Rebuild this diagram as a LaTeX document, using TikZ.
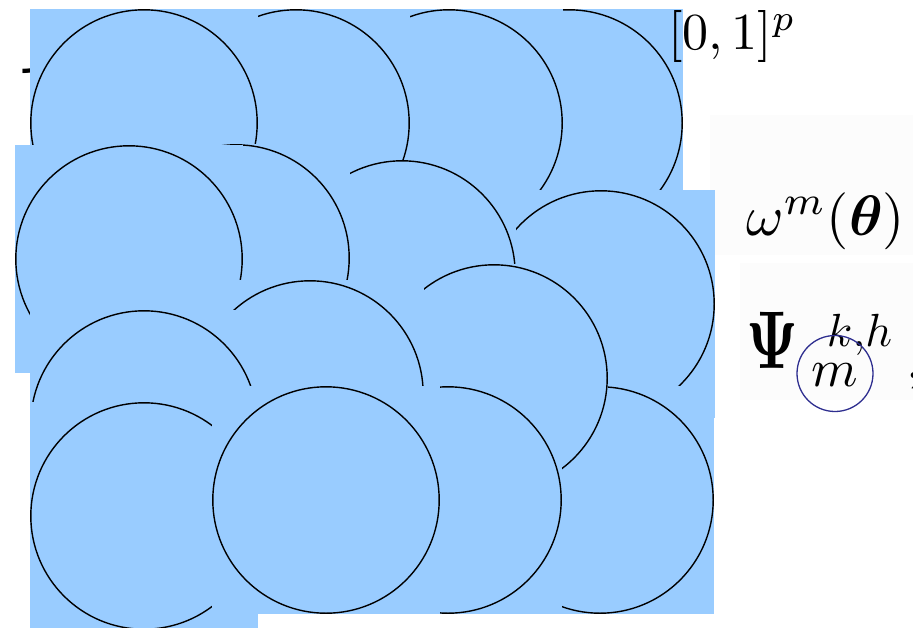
\documentclass[tikz,border=0pt]{standalone}
\usepackage{amsmath}
\definecolor{patchblue}{HTML}{99CCFF}
\definecolor{ringnavy}{HTML}{2E2E8F}
\begin{document}
\begin{tikzpicture}[x=1pt,y=-1pt,
  bub/.style={rectangle, fill=patchblue, minimum size=228pt, inner sep=0pt,
    path picture={\draw[line width=1.4pt] (path picture bounding box.center) circle (113.2pt);}},
  lbl/.style={inner sep=0pt, anchor=base west}]
\useasboundingbox (0,0) rectangle (913,627);
\fill[black!1] (710,115) rectangle (913,255);
\fill[black!1] (740,263) rectangle (913,400);
\node[lbl, scale=14] (one) at (8,153) {1};
% drawing order matters: later patches cover earlier rings
\node[bub] (c4)  at (569,123) {};
\node[bub] (c3)  at (449,123) {};
\node[bub] (c2)  at (296,123) {};
\node[bub] (c1)  at (144,123) {};
\node[bub] (c8)  at (601,304) {};
\node[bub] (c7)  at (402,274) {};
\node[bub] (c6)  at (236,258) {};
\node[bub] (c5)  at (129,259) {};
\node[bub] (c16) at (600,500) {};
\node[bub] (c11) at (494,378) {};
\node[bub] (c10) at (310,394) {};
\node[bub] (c9)  at (144,424) {};
\node[bub] (c13) at (144,516) {};
\node[bub] (c15) at (448,500) {};
\node[bub] (c14) at (326,500) {};
\node[lbl, scale=5.2] (cube) at (667,49) {$[0,1]^p$};
\node[lbl, scale=5.7] (omega) at (745,235) {$\omega^m(\boldsymbol{\theta})$};
\node[lbl, xscale=5.8, yscale=8.2] (psi) at (745,368) {$\boldsymbol{\Psi}$};
\node[lbl, scale=4.65] (psisup) at (826,346) {$k{,}h$};
\node[lbl, scale=5.3] (psisub) at (810,386) {$m$};
\node[lbl, scale=5.5] (psicomma) at (905,378) {$,$};
\node[circle, draw=ringnavy, line width=1.3pt, minimum size=76pt, inner sep=0pt] (mring) at (835,373.5) {};
\end{tikzpicture}
\end{document}
